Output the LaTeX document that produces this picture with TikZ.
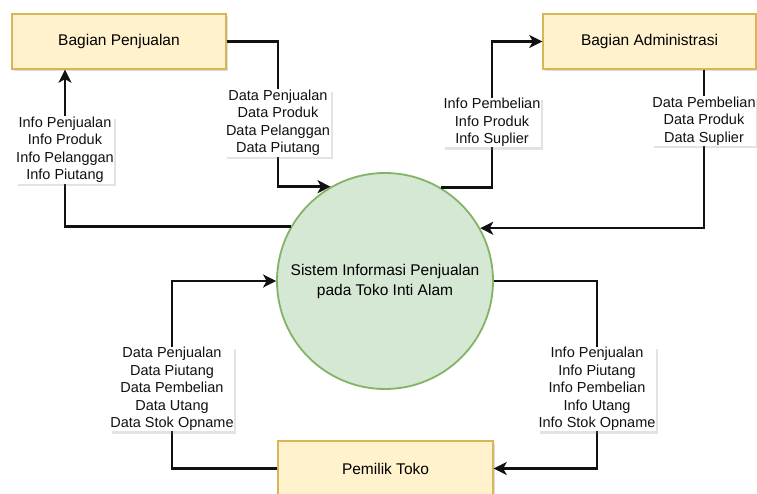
\documentclass[tikz,border=0pt]{standalone}
\usepackage{fontspec}
\setmainfont{Liberation Sans}
\usetikzlibrary{arrows.meta, shadows, calc}
\definecolor{y1}{HTML}{FFF2CC}
\definecolor{y2}{HTML}{D6B656}
\definecolor{g1}{HTML}{D5E8D4}
\definecolor{g2}{HTML}{82B366}
\definecolor{b}{HTML}{111111}

\begin{document}
\begin{tikzpicture}[x=1pt, y=-1pt,
	entity/.style={draw=y2, fill=y1, line width=1.4pt, minimum height=55pt,
		font=\fontsize{15.5}{19}\selectfont,
		drop shadow={opacity=0.25, shadow xshift=2pt, shadow yshift=-2.5pt}},
	proc/.style={circle, draw=g2, fill=g1, line width=1.8pt, minimum size=216pt,
		align=center, font=\fontsize{15.5}{20}\selectfont},
	flow/.style={draw=b, line width=2.5pt, -{Stealth[length=13pt, width=13pt, inset=3.5pt]}},
	lbl/.style={fill=white, inner sep=0.6pt, align=center, text=b,
		font=\fontsize{14.5}{17.5}\selectfont,
		drop shadow={opacity=0.22, shadow xshift=2pt, shadow yshift=-2.5pt}}
]
			\useasboundingbox (0,0) rectangle (757,494);
			\fill[white] (0,0) rectangle (757,494);
			\clip (0,0) rectangle (757,494);
			
			\node[entity, minimum width=214pt] (penjualan) at (119,41.5) {Bagian Penjualan};
			\node[entity, minimum width=213pt] (admin) at (649.5,41.5) {Bagian Administrasi};
			\node[entity, minimum width=215pt] (pemilik) at (385.5,468.5) {Pemilik Toko};
			\node[proc] (sistem) at (385,281) {Sistem Informasi Penjualan\\pada Toko Inti Alam};
			
			\coordinate (Pj) at (278,0 |- sistem.120.6);
			\coordinate (Ps) at (65,0 |- penjualan.south);
			\coordinate (Aj) at (492,0 |- admin.west);
			\coordinate (As) at (704,0 |- admin.south);
			\coordinate (Mj) at (172,0 |- sistem.west);
			\coordinate (Nj) at (597,0 |- sistem.east);
			
			\draw[flow] (penjualan.east) -| (Pj) -- (sistem.120.6);
			\draw[flow] (sistem.150.6) -| (Ps);
			\draw[flow] (sistem.59.4) -| (Aj) -- (admin.west);
			\draw[flow] (As) |- (sistem.29.4);
			\draw[flow] (pemilik.west) -| (Mj) -- (sistem.west);
			\draw[flow] (sistem.east) -| (Nj |- pemilik.east) -- (pemilik.east);
			
			\node[lbl] (dPj) at (278,123) {Data Penjualan\\Data Produk\\Data Pelanggan\\Data Piutang};
			\node[lbl] (iPj) at (65,150) {Info Penjualan\\Info Produk\\Info Pelanggan\\Info Piutang};
			\node[lbl] (iAd) at (492,122.5) {Info Pembelian\\Info Produk\\Info Suplier};
			\node[lbl] (dAd) at (704,121) {Data Pembelian\\Data Produk\\Data Suplier};
			\node[lbl] (dPm) at (172,389) {Data Penjualan\\Data Piutang\\Data Pembelian\\Data Utang\\Data Stok Opname};
			\node[lbl] (iPm) at (597,389) {Info Penjualan\\Info Piutang\\Info Pembelian\\Info Utang\\Info Stok Opname};
			
		\end{tikzpicture}
\end{document}
